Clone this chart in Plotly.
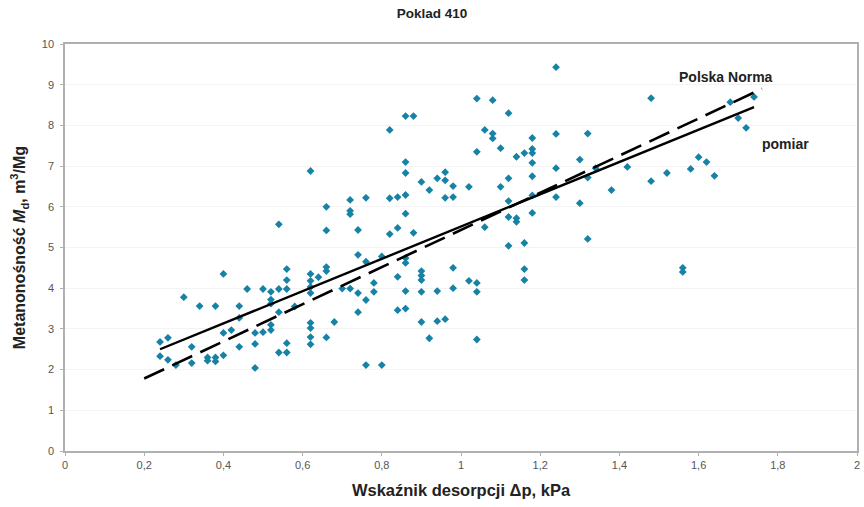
import plotly.graph_objects as go

# --- data ---
x_pts = [
    0.24, 0.24, 0.26, 0.26, 0.28, 0.30, 0.32, 0.32, 0.34, 0.36, 0.36,
    0.38, 0.38, 0.38, 0.40, 0.40, 0.40, 0.42, 0.44, 0.44, 0.44, 0.46,
    0.48, 0.48, 0.48, 0.50, 0.50, 0.52, 0.52, 0.52, 0.52, 0.52,
    0.54, 0.54, 0.54, 0.54, 0.56, 0.56, 0.56, 0.56, 0.56, 0.58,
    0.62, 0.62, 0.62, 0.62, 0.62, 0.62, 0.62, 0.62, 0.62, 0.64,
    0.66, 0.66, 0.66, 0.66, 0.66, 0.68, 0.70, 0.72, 0.72, 0.72, 0.72,
    0.74, 0.74, 0.74, 0.74, 0.76, 0.76, 0.76, 0.76, 0.78, 0.78,
    0.80, 0.80, 0.82, 0.82, 0.82, 0.84, 0.84, 0.84, 0.84,
    0.86, 0.86, 0.86, 0.86, 0.86, 0.86, 0.86, 0.86, 0.86, 0.88, 0.88,
    0.90, 0.90, 0.90, 0.90, 0.90, 0.90, 0.92, 0.92, 0.94, 0.94, 0.94,
    0.96, 0.96, 0.96, 0.96, 0.98, 0.98, 0.98, 0.98, 1.02, 1.02,
    1.04, 1.04, 1.04, 1.04, 1.04, 1.06, 1.06, 1.08, 1.08, 1.08,
    1.10, 1.10, 1.12, 1.12, 1.12, 1.12, 1.12, 1.14, 1.14, 1.14,
    1.16, 1.16, 1.16, 1.16, 1.18, 1.18, 1.18, 1.18, 1.18, 1.18, 1.18,
    1.24, 1.24, 1.24, 1.24, 1.30, 1.30, 1.32, 1.32, 1.32, 1.34, 1.38,
    1.42, 1.48, 1.48, 1.52, 1.56, 1.56, 1.58, 1.60, 1.62, 1.64, 1.68,
    1.70, 1.72, 1.74,
]
y_pts = [
    2.68, 2.33, 2.78, 2.24, 2.11, 3.78, 2.56, 2.16, 3.56, 2.30, 2.22,
    3.56, 2.30, 2.20, 4.35, 2.90, 2.35, 2.97, 3.56, 3.27, 2.56, 3.98,
    2.90, 2.63, 2.04, 3.98, 2.92, 3.91, 3.72, 3.62, 3.10, 2.97,
    5.57, 3.98, 3.41, 2.42, 4.47, 4.20, 3.98, 2.65, 2.42, 3.55,
    6.88, 4.35, 4.18, 4.03, 3.88, 3.15, 3.02, 2.80, 2.62, 4.27,
    6.00, 5.42, 4.52, 4.42, 2.79, 3.17, 3.99, 6.17, 5.90, 5.82, 3.99,
    5.43, 4.82, 3.88, 3.41, 6.22, 4.65, 3.71, 2.11, 4.13, 3.91,
    4.78, 2.11, 7.89, 6.21, 5.33, 6.24, 5.48, 4.28, 3.46,
    8.23, 7.10, 6.83, 6.29, 5.83, 4.74, 4.62, 3.93, 3.50, 8.23, 5.36,
    6.61, 4.42, 4.31, 4.20, 3.91, 3.17, 6.41, 2.77, 6.70, 3.93, 3.19,
    6.85, 6.65, 6.22, 3.24, 6.51, 6.24, 4.50, 4.00, 6.49, 4.18,
    8.66, 7.35, 4.13, 3.91, 2.74, 7.89, 5.50, 8.62, 7.80, 7.68,
    7.44, 6.49, 8.30, 6.70, 6.14, 5.75, 5.04, 7.23, 5.72, 5.63,
    7.32, 5.11, 4.47, 4.20, 7.69, 7.42, 7.32, 7.08, 6.75, 6.28, 5.85,
    9.43, 7.79, 6.95, 6.24, 7.16, 6.09, 7.80, 6.72, 5.21, 6.95, 6.41,
    6.98, 8.67, 6.63, 6.83, 4.50, 4.40, 6.93, 7.22, 7.10, 6.76, 8.57,
    8.18, 7.94, 8.70,
]

pomiar_x = [0.24, 1.74]
pomiar_y = [2.50, 8.45]
norma_x = [0.20, 1.76]
norma_y = [1.78, 8.90]

x_tickvals = [0, 0.2, 0.4, 0.6, 0.8, 1.0, 1.2, 1.4, 1.6, 1.8, 2.0]
x_ticktext = ["0", "0,2", "0,4", "0,6", "0,8", "1", "1,2", "1,4", "1,6", "1,8", "2"]
y_tickvals = [0, 1, 2, 3, 4, 5, 6, 7, 8, 9, 10]

title_text = "Poklad 410"
x_title = "Wskaźnik desorpcji Δp, kPa"
y_title = "Metanonośność <i>M</i><sub>d</sub>, m<sup>3</sup>/Mg"

FONT = "Liberation Sans, Arial, sans-serif"

fig = go.Figure()
fig.add_trace(go.Scatter(
    x=x_pts, y=y_pts, mode="markers",
    marker=dict(symbol="diamond", size=6, color="#1682a6",
                line=dict(width=0)),
    showlegend=False, hoverinfo="x+y",
))
fig.add_trace(go.Scatter(
    x=norma_x, y=norma_y, mode="lines",
    line=dict(color="black", width=2.6, dash="22px,9px"),
    showlegend=False,
))
fig.add_trace(go.Scatter(
    x=pomiar_x, y=pomiar_y, mode="lines",
    line=dict(color="black", width=2.4),
    showlegend=False,
))

fig.add_annotation(x=1.67, y=9.2, xref="x", yref="y", text="<b>Polska Norma</b>",
                   showarrow=False, xanchor="center", yanchor="middle",
                   font=dict(family=FONT, size=14, color="#222"))
fig.add_annotation(x=1.82, y=7.55, xref="x", yref="y", text="<b>pomiar</b>",
                   showarrow=False, xanchor="center", yanchor="middle",
                   font=dict(family=FONT, size=14, color="#222"))

fig.update_layout(
    width=864, height=507,
    margin=dict(l=65, r=4, t=44, b=56),
    paper_bgcolor="white", plot_bgcolor="white",
    font=dict(family=FONT, color="#444"),
    title=dict(text="<b>" + title_text + "</b>", x=0.5, xanchor="center",
               y=0.983, yanchor="top",
               font=dict(family=FONT, size=13.5, color="#222")),
)
fig.update_xaxes(
    range=[0, 2], tickvals=x_tickvals, ticktext=x_ticktext,
    showgrid=False, zeroline=False,
    showline=True, linecolor="#b0b0b0", linewidth=1.5, mirror=True,
    ticks="outside", ticklen=3, tickcolor="#b0b0b0",
    tickfont=dict(family=FONT, size=11, color="#555"),
    title=dict(text="<b>" + x_title + "</b>", standoff=14,
               font=dict(family=FONT, size=16.5, color="#222")),
)
fig.update_yaxes(
    range=[0, 10], tickvals=y_tickvals,
    showgrid=True, gridcolor="#f3f3f3", zeroline=False,
    showline=True, linecolor="#b0b0b0", linewidth=1.5, mirror=True,
    ticks="outside", ticklen=3, tickcolor="#b0b0b0", ticklabelstandoff=4,
    tickfont=dict(family=FONT, size=11, color="#555"),
    title=dict(text="<b>" + y_title + "</b>", standoff=12,
               font=dict(family=FONT, size=16, color="#222")),
)

fig.write_html("out.html")
